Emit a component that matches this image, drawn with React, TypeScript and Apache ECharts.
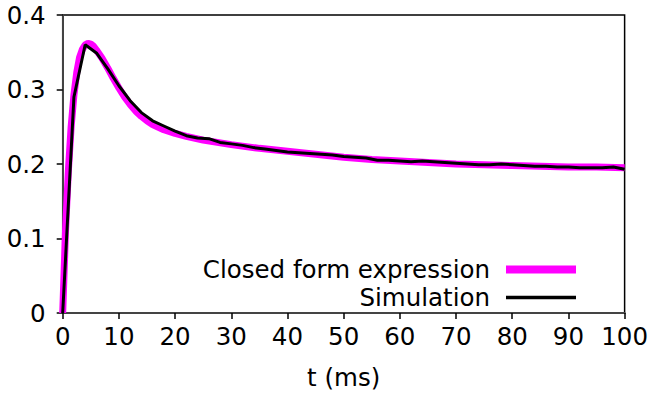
import React, { useEffect, useRef } from "react";
import * as echarts from "echarts";

const cfT = [0, 0.5, 1, 1.5, 2, 2.5, 3, 3.5, 4, 4.5, 5, 5.5, 6, 7, 8, 9, 10, 11, 12, 13, 14, 15, 16, 18, 20, 22, 25, 30, 35, 40, 45, 50, 55, 60, 65, 70, 75, 80, 85, 90, 95, 100];
const cfV = [0, 0.11, 0.19, 0.25, 0.293, 0.323, 0.343, 0.354, 0.36, 0.362, 0.361, 0.358, 0.353, 0.342, 0.329, 0.315, 0.302, 0.29, 0.28, 0.271, 0.264, 0.258, 0.253, 0.246, 0.241, 0.237, 0.232, 0.226, 0.221, 0.217, 0.213, 0.209, 0.206, 0.204, 0.202, 0.2, 0.199, 0.198, 0.197, 0.196, 0.196, 0.195];

const simT = [0, 2, 4, 6, 8, 10, 12, 14, 16, 18, 20, 22, 24, 26, 28, 30, 32, 34, 36, 38, 40, 42, 44, 46, 48, 50, 52, 54, 56, 58, 60, 62, 64, 66, 68, 70, 72, 74, 76, 78, 80, 82, 84, 86, 88, 90, 92, 94, 96, 98, 100];
const simV = [0, 0.29, 0.36, 0.349, 0.328, 0.305, 0.285, 0.269, 0.258, 0.251, 0.244, 0.238, 0.235, 0.234, 0.229, 0.227, 0.225, 0.222, 0.22, 0.218, 0.216, 0.215, 0.214, 0.213, 0.212, 0.21, 0.209, 0.208, 0.205, 0.205, 0.204, 0.203, 0.204, 0.203, 0.202, 0.201, 0.2, 0.199, 0.199, 0.2, 0.199, 0.198, 0.197, 0.197, 0.196, 0.196, 0.195, 0.195, 0.195, 0.196, 0.193];

const seriesNames = ["Closed form expression", "Simulation"];

export default function App() {
  const ref = useRef<HTMLDivElement>(null);
  useEffect(() => {
    if (!ref.current) return;
    const chart = echarts.init(ref.current, null, { renderer: "svg" });
    const font = "DejaVu Sans";
    const fs = 24.5;
    const legendBase = {
      orient: "vertical",
      right: 75,
      align: "right",
      padding: 0,
      itemWidth: 70,
      icon: "rect",
      textStyle: { fontFamily: font, fontSize: fs, color: "#000", padding: [0, 11, 0, 0] },
    };
    chart.setOption({
      animation: false,
      backgroundColor: "#fff",
      grid: {
        left: 62.7,
        right: 23.3,
        top: 15,
        bottom: 80,
        show: true,
        borderColor: "#000",
        borderWidth: 1.5,
      },
      legend: [
        {
          ...legendBase,
          top: 257,
          data: [seriesNames[0]],
          itemHeight: 8,
          itemStyle: { color: "#ff00ff" },
        },
        {
          ...legendBase,
          top: 285,
          data: [seriesNames[1]],
          itemHeight: 3.5,
          itemStyle: { color: "#000" },
        },
      ],
      xAxis: {
        type: "value",
        min: 0,
        max: 100,
        interval: 10,
        name: "t (ms)",
        nameLocation: "middle",
        nameGap: 52,
        nameTextStyle: { fontFamily: font, fontSize: fs, color: "#000" },
        axisLine: { show: true, lineStyle: { color: "#444", width: 2 } },
        axisTick: { show: true, inside: false, length: 6, lineStyle: { color: "#000", width: 1.5 } },
        axisLabel: { fontFamily: font, fontSize: fs, color: "#000", margin: 11 },
        splitLine: { show: false },
      },
      yAxis: {
        type: "value",
        min: 0,
        max: 0.4,
        interval: 0.1,
        axisLine: { show: true, lineStyle: { color: "#444", width: 2 } },
        axisTick: { show: true, inside: false, length: 6, lineStyle: { color: "#000", width: 1.5 } },
        axisLabel: {
          fontFamily: font,
          fontSize: fs,
          color: "#000",
          margin: 17,
          formatter: (v: number) => (v === 0 ? "0" : v.toFixed(1)),
        },
        splitLine: { show: false },
      },
      series: [
        {
          name: seriesNames[0],
          type: "line",
          data: cfT.map((t, i) => [t, cfV[i]]),
          showSymbol: false,
          symbol: "none",
          lineStyle: { color: "#ff00ff", width: 7 },
          itemStyle: { color: "#ff00ff" },
          z: 2,
        },
        {
          name: seriesNames[1],
          type: "line",
          data: simT.map((t, i) => [t, simV[i]]),
          showSymbol: false,
          symbol: "none",
          lineStyle: { color: "#000", width: 3 },
          itemStyle: { color: "#000" },
          z: 3,
        },
      ],
    });
    return () => chart.dispose();
  }, []);
  return (
    <div
      ref={ref}
      style={{ position: "fixed", left: 0, top: 0, width: 651, height: 395 }}
    />
  );
}
